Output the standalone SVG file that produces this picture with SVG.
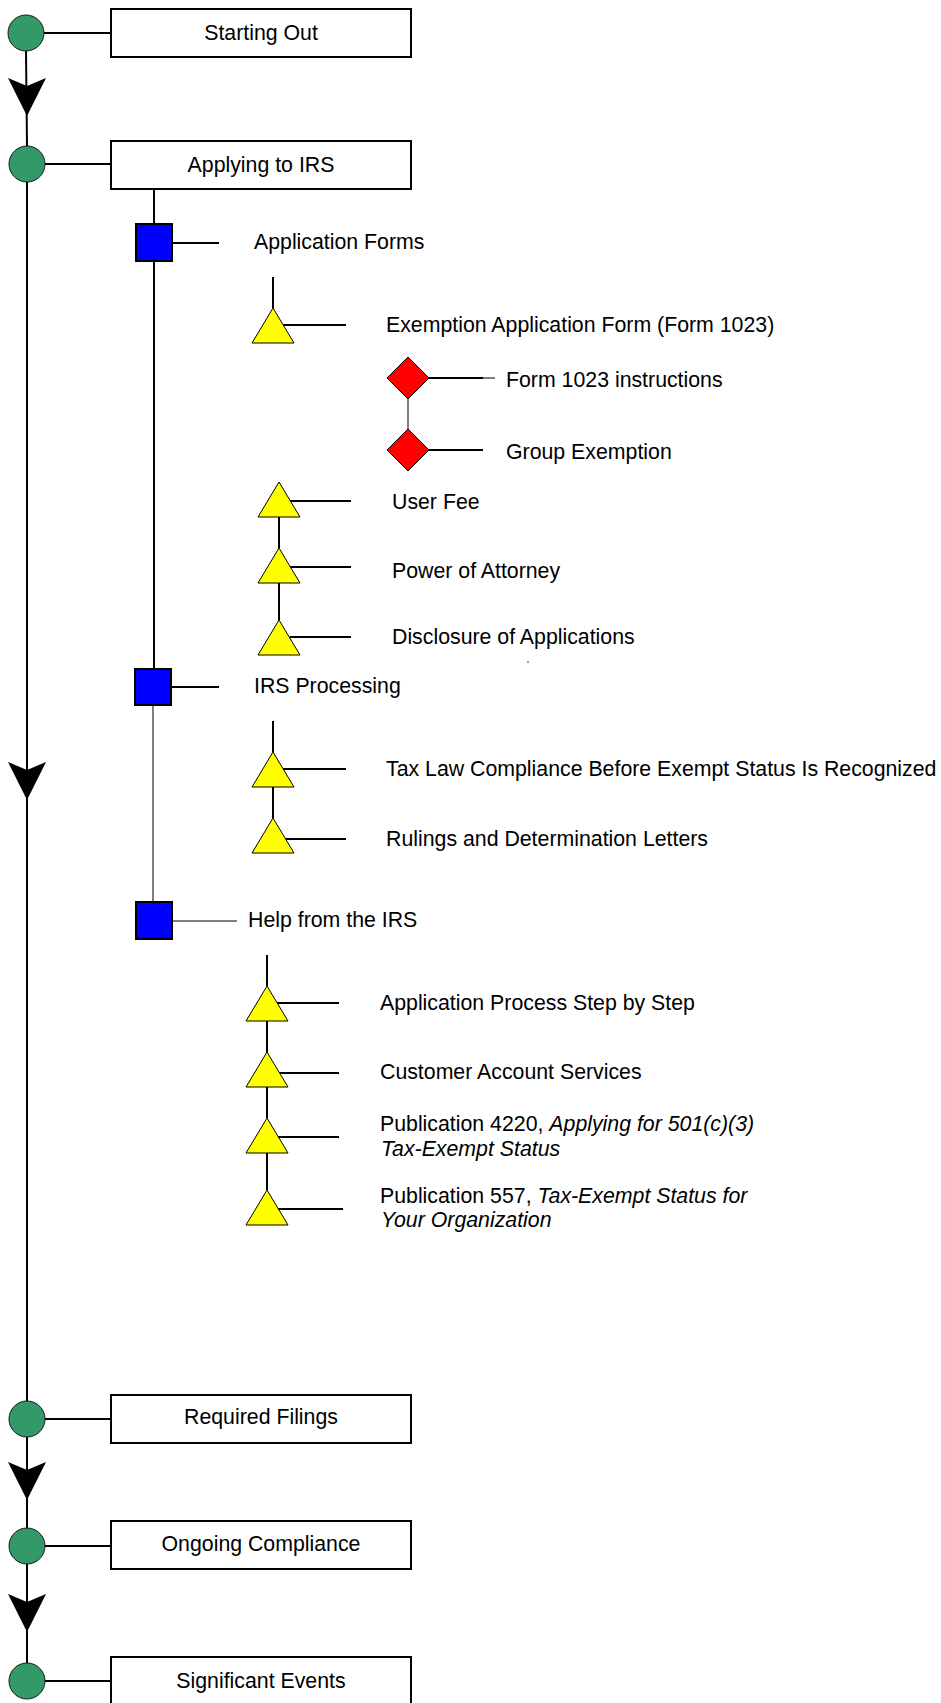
<svg xmlns="http://www.w3.org/2000/svg" width="941" height="1703" viewBox="0 0 941 1703">
<style>
text{font-family:"Liberation Sans",Arial,sans-serif;font-size:21.3px;fill:#000}
.mid{text-anchor:middle}
.it{font-style:italic}
.ln{stroke:#000;stroke-width:2;fill:none}
.gl{stroke:#808080;stroke-width:2;fill:none}
.stage{fill:#339966;stroke:#1a1a1a;stroke-width:1}
.box{fill:#fff;stroke:#000;stroke-width:2}
.sq{fill:#0000ff;stroke:#000;stroke-width:2}
.tri{fill:#ffff00;stroke:#000;stroke-width:1}
.dia{fill:#ff0000;stroke:#000;stroke-width:1}
.ah{fill:#000;stroke:none}
</style>
<defs>
<path id="arrow" d="M-19,0 L0,8 L19,0 L0,38 Z"/>
<path id="triA" d="M0,0 L21,35 L-21,35 Z"/>
<path id="dia" d="M0,-21 L21,0 L0,21 L-21,0 Z"/>
</defs>
<rect width="941" height="1703" fill="#fff"/>
<g id="connectors">
<line class="ln" x1="26" y1="51" x2="27" y2="146"/>
<line class="ln" x1="27" y1="182" x2="27" y2="1401"/>
<line class="ln" x1="27" y1="1437" x2="27" y2="1528"/>
<line class="ln" x1="27" y1="1564" x2="27" y2="1663"/>
<use href="#arrow" class="ah" x="27" y="78"/>
<use href="#arrow" class="ah" x="27" y="762"/>
<use href="#arrow" class="ah" x="27" y="1462"/>
<use href="#arrow" class="ah" x="27" y="1594"/>
<line class="ln" x1="44" y1="33" x2="111" y2="33"/>
<line class="ln" x1="45" y1="164" x2="111" y2="164"/>
<line class="ln" x1="45" y1="1419" x2="111" y2="1419"/>
<line class="ln" x1="45" y1="1546" x2="111" y2="1546"/>
<line class="ln" x1="45" y1="1681" x2="111" y2="1681"/>
<line class="ln" x1="154" y1="189" x2="154" y2="224"/>
<line class="ln" x1="154" y1="261" x2="154" y2="669"/>
<line class="gl" x1="153" y1="705" x2="153" y2="902"/>
<line class="ln" x1="172" y1="243" x2="219" y2="243"/>
<line class="ln" x1="171" y1="687" x2="219" y2="687"/>
<line class="gl" x1="172" y1="921" x2="237" y2="921"/>
<line class="ln" x1="273" y1="277" x2="273" y2="308"/>
<line class="ln" x1="283" y1="325" x2="346" y2="325"/>
<line class="ln" x1="429" y1="378" x2="483" y2="378"/>
<line class="gl" x1="483" y1="378" x2="495" y2="378"/>
<line class="gl" x1="408" y1="399" x2="408" y2="429"/>
<line class="ln" x1="429" y1="450" x2="483" y2="450"/>
<line class="ln" x1="290" y1="501" x2="351" y2="501"/>
<line class="ln" x1="279" y1="517" x2="279" y2="548"/>
<line class="ln" x1="290" y1="567" x2="351" y2="567"/>
<line class="ln" x1="279" y1="583" x2="279" y2="620"/>
<line class="ln" x1="290" y1="637" x2="351" y2="637"/>
<line class="ln" x1="273" y1="721" x2="273" y2="752"/>
<line class="ln" x1="283" y1="769" x2="346" y2="769"/>
<line class="ln" x1="273" y1="787" x2="273" y2="818"/>
<line class="ln" x1="285" y1="839" x2="346" y2="839"/>
<line class="ln" x1="267" y1="955" x2="267" y2="986"/>
<line class="ln" x1="277" y1="1003" x2="339" y2="1003"/>
<line class="ln" x1="267" y1="1021" x2="267" y2="1052"/>
<line class="ln" x1="279" y1="1073" x2="339" y2="1073"/>
<line class="ln" x1="267" y1="1087" x2="267" y2="1118"/>
<line class="ln" x1="278" y1="1137" x2="339" y2="1137"/>
<line class="ln" x1="267" y1="1153" x2="267" y2="1190"/>
<line class="ln" x1="278" y1="1209" x2="343" y2="1209"/>
<rect x="527" y="661" width="2" height="2" fill="#999"/>
</g>
<g id="n-starting"><circle class="stage" cx="26" cy="33" r="18"/><rect class="box" x="111" y="9" width="300" height="48"/><text class="mid" x="261" y="40">Starting Out</text></g>
<g id="n-applying"><circle class="stage" cx="27" cy="164" r="18"/><rect class="box" x="111" y="141" width="300" height="48"/><text class="mid" x="261" y="172">Applying to IRS</text></g>
<g id="n-appforms"><rect class="sq" x="136" y="224" width="36" height="37"/><text x="254" y="249">Application Forms</text></g>
<g id="n-form1023"><use href="#triA" class="tri" x="273" y="308"/><text x="386" y="332">Exemption Application Form (Form 1023)</text></g>
<g id="n-instructions"><use href="#dia" class="dia" x="408" y="378"/><text x="506" y="387">Form 1023 instructions</text></g>
<g id="n-group"><use href="#dia" class="dia" x="408" y="450"/><text x="506" y="459">Group Exemption</text></g>
<g id="n-userfee"><use href="#triA" class="tri" x="279" y="482"/><text x="392" y="509">User Fee</text></g>
<g id="n-poa"><use href="#triA" class="tri" x="279" y="548"/><text x="392" y="578">Power of Attorney</text></g>
<g id="n-disclosure"><use href="#triA" class="tri" x="279" y="620"/><text x="392" y="644">Disclosure of Applications</text></g>
<g id="n-processing"><rect class="sq" x="135" y="669" width="36" height="36"/><text x="254" y="693">IRS Processing</text></g>
<g id="n-taxlaw"><use href="#triA" class="tri" x="273" y="752"/><text x="386" y="776">Tax Law Compliance Before Exempt Status Is Recognized</text></g>
<g id="n-rulings"><use href="#triA" class="tri" x="273" y="818"/><text x="386" y="846">Rulings and Determination Letters</text></g>
<g id="n-help"><rect class="sq" x="136" y="902" width="36" height="37"/><text x="248" y="927">Help from the IRS</text></g>
<g id="n-steps"><use href="#triA" class="tri" x="267" y="986"/><text x="380" y="1010">Application Process Step by Step</text></g>
<g id="n-customer"><use href="#triA" class="tri" x="267" y="1052"/><text x="380" y="1079">Customer Account Services</text></g>
<g id="n-pub4220"><use href="#triA" class="tri" x="267" y="1118"/><text x="380" y="1131">Publication 4220, <tspan class="it">Applying for 501(c)(3)</tspan></text><text class="it" x="381" y="1156">Tax-Exempt Status</text></g>
<g id="n-pub557"><use href="#triA" class="tri" x="267" y="1190"/><text x="380" y="1203">Publication 557, <tspan class="it">Tax-Exempt Status for</tspan></text><text class="it" x="381" y="1227">Your Organization</text></g>
<g id="n-required"><circle class="stage" cx="27" cy="1419" r="18"/><rect class="box" x="111" y="1395" width="300" height="48"/><text class="mid" x="261" y="1424">Required Filings</text></g>
<g id="n-ongoing"><circle class="stage" cx="27" cy="1546" r="18"/><rect class="box" x="111" y="1521" width="300" height="48"/><text class="mid" x="261" y="1551">Ongoing Compliance</text></g>
<g id="n-significant"><circle class="stage" cx="27" cy="1681" r="18"/><rect class="box" x="111" y="1657" width="300" height="48"/><text class="mid" x="261" y="1688">Significant Events</text></g>
</svg>
